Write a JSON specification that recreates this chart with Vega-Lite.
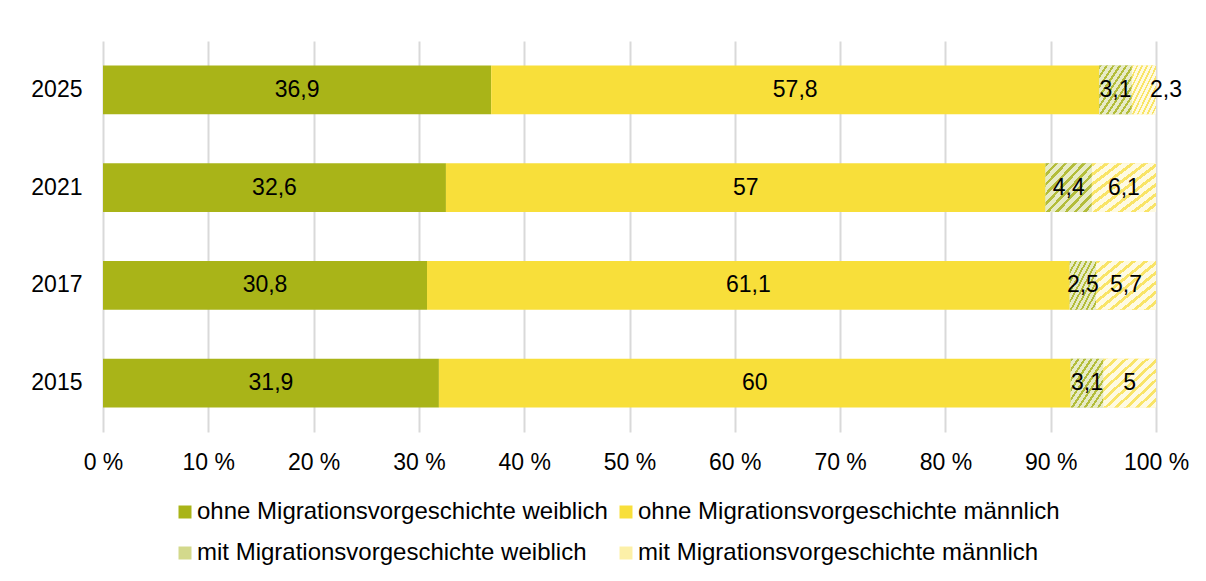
{
  "$schema": "https://vega.github.io/schema/vega-lite/v6.json",
  "width": 1053,
  "height": 391,
  "autosize": {"type": "none"},
  "padding": {"left": 103, "top": 41, "right": 50, "bottom": 149},
  "background": "white",
  "config": {
    "font": "Liberation Sans",
    "view": {"stroke": null},
    "axis": {"labelFont": "Liberation Sans", "labelColor": "#000000", "labelFontSize": 23}
  },
  "data": {
    "values": [
      {"year": "2025", "cat": "ohne Migrationsvorgeschichte weiblich", "order": 1, "v": 36.9, "label": "36,9"},
      {"year": "2025", "cat": "ohne Migrationsvorgeschichte männlich", "order": 2, "v": 57.8, "label": "57,8"},
      {"year": "2025", "cat": "mit Migrationsvorgeschichte weiblich", "order": 3, "v": 3.1, "label": "3,1"},
      {"year": "2025", "cat": "mit Migrationsvorgeschichte männlich", "order": 4, "v": 2.3, "label": "2,3"},
      {"year": "2021", "cat": "ohne Migrationsvorgeschichte weiblich", "order": 1, "v": 32.6, "label": "32,6"},
      {"year": "2021", "cat": "ohne Migrationsvorgeschichte männlich", "order": 2, "v": 57, "label": "57"},
      {"year": "2021", "cat": "mit Migrationsvorgeschichte weiblich", "order": 3, "v": 4.4, "label": "4,4"},
      {"year": "2021", "cat": "mit Migrationsvorgeschichte männlich", "order": 4, "v": 6.1, "label": "6,1"},
      {"year": "2017", "cat": "ohne Migrationsvorgeschichte weiblich", "order": 1, "v": 30.8, "label": "30,8"},
      {"year": "2017", "cat": "ohne Migrationsvorgeschichte männlich", "order": 2, "v": 61.1, "label": "61,1"},
      {"year": "2017", "cat": "mit Migrationsvorgeschichte weiblich", "order": 3, "v": 2.5, "label": "2,5"},
      {"year": "2017", "cat": "mit Migrationsvorgeschichte männlich", "order": 4, "v": 5.7, "label": "5,7"},
      {"year": "2015", "cat": "ohne Migrationsvorgeschichte weiblich", "order": 1, "v": 31.9, "label": "31,9"},
      {"year": "2015", "cat": "ohne Migrationsvorgeschichte männlich", "order": 2, "v": 60, "label": "60"},
      {"year": "2015", "cat": "mit Migrationsvorgeschichte weiblich", "order": 3, "v": 3.1, "label": "3,1"},
      {"year": "2015", "cat": "mit Migrationsvorgeschichte männlich", "order": 4, "v": 5, "label": "5"}
    ]
  },
  "transform": [
    {"stack": "v", "groupby": ["year"], "sort": [{"field": "order"}], "offset": "normalize", "as": ["x0", "x1"]},
    {"calculate": "datum.x1 - datum.x0 < 0.024 ? datum.x1 + 0.0095 : (datum.x0 + datum.x1) / 2", "as": "xm"}
  ],
  "encoding": {
    "y": {
      "field": "year",
      "type": "nominal",
      "sort": ["2025", "2021", "2017", "2015"],
      "scale": {"paddingInner": 0.5, "paddingOuter": 0.25},
      "axis": {"title": null, "domain": false, "ticks": false, "labelPadding": 21, "grid": false}
    }
  },
  "layer": [
    {
      "mark": {"type": "bar"},
      "encoding": {
        "x": {
          "field": "x0",
          "type": "quantitative",
          "scale": {"domain": [0, 1]},
          "axis": {
            "title": null,
            "values": [0, 0.1, 0.2, 0.3, 0.4, 0.5, 0.6, 0.7, 0.8, 0.9, 1],
            "labelExpr": "format(datum.value * 100, 'd') + ' %'",
            "domain": false,
            "ticks": false,
            "grid": true,
            "gridColor": "#d9d9d9",
            "gridWidth": 2,
            "labelPadding": 19,
            "labelFlush": false
          }
        },
        "x2": {"field": "x1"},
        "fill": {
          "field": "cat",
          "type": "nominal",
          "scale": {
            "domain": ["ohne Migrationsvorgeschichte weiblich", "ohne Migrationsvorgeschichte männlich", "mit Migrationsvorgeschichte weiblich", "mit Migrationsvorgeschichte männlich"],
            "range": ["#A9B418", "#F8DF3A", "#D3D98C", "#FCF0A8"]
          },
          "legend": {
            "title": null,
            "orient": "none",
            "legendX": 70,
            "legendY": 459,
            "direction": "horizontal",
            "columns": 2,
            "columnPadding": 6,
            "rowPadding": 17,
            "padding": 0,
            "symbolType": "square",
            "symbolSize": 169,
            "symbolStrokeWidth": 0,
            "labelFontSize": 24,
            "labelFont": "Liberation Sans",
            "labelColor": "#000000",
            "labelOffset": 0,
            "labelLimit": 600
          }
        }
      }
    },
    {
      "transform": [{"filter": "datum.order >= 3"}],
      "mark": {"type": "bar"},
      "encoding": {
        "x": {"field": "x0", "type": "quantitative"},
        "x2": {"field": "x1"},
        "fill": {
          "condition": {
            "test": "datum.order == 3",
            "value": {"gradient": "linear", "x1": 0, "y1": 0, "x2": 1, "y2": 1, "stops": [
              {"offset": 0, "color": "#B3BD3A"}, {"offset": 0.038, "color": "#B3BD3A"}, {"offset": 0.038, "color": "#E7EBC6"}, {"offset": 0.1, "color": "#E7EBC6"},
              {"offset": 0.1, "color": "#B3BD3A"}, {"offset": 0.138, "color": "#B3BD3A"}, {"offset": 0.138, "color": "#E7EBC6"}, {"offset": 0.2, "color": "#E7EBC6"},
              {"offset": 0.2, "color": "#B3BD3A"}, {"offset": 0.238, "color": "#B3BD3A"}, {"offset": 0.238, "color": "#E7EBC6"}, {"offset": 0.3, "color": "#E7EBC6"},
              {"offset": 0.3, "color": "#B3BD3A"}, {"offset": 0.338, "color": "#B3BD3A"}, {"offset": 0.338, "color": "#E7EBC6"}, {"offset": 0.4, "color": "#E7EBC6"},
              {"offset": 0.4, "color": "#B3BD3A"}, {"offset": 0.438, "color": "#B3BD3A"}, {"offset": 0.438, "color": "#E7EBC6"}, {"offset": 0.5, "color": "#E7EBC6"},
              {"offset": 0.5, "color": "#B3BD3A"}, {"offset": 0.538, "color": "#B3BD3A"}, {"offset": 0.538, "color": "#E7EBC6"}, {"offset": 0.6, "color": "#E7EBC6"},
              {"offset": 0.6, "color": "#B3BD3A"}, {"offset": 0.638, "color": "#B3BD3A"}, {"offset": 0.638, "color": "#E7EBC6"}, {"offset": 0.7, "color": "#E7EBC6"},
              {"offset": 0.7, "color": "#B3BD3A"}, {"offset": 0.738, "color": "#B3BD3A"}, {"offset": 0.738, "color": "#E7EBC6"}, {"offset": 0.8, "color": "#E7EBC6"},
              {"offset": 0.8, "color": "#B3BD3A"}, {"offset": 0.838, "color": "#B3BD3A"}, {"offset": 0.838, "color": "#E7EBC6"}, {"offset": 0.9, "color": "#E7EBC6"},
              {"offset": 0.9, "color": "#B3BD3A"}, {"offset": 0.938, "color": "#B3BD3A"}, {"offset": 0.938, "color": "#E7EBC6"}, {"offset": 1, "color": "#E7EBC6"}
            ]}
          },
          "value": {"gradient": "linear", "x1": 0, "y1": 0, "x2": 1, "y2": 1, "stops": [
            {"offset": 0, "color": "#F9E466"}, {"offset": 0.038, "color": "#F9E466"}, {"offset": 0.038, "color": "#FEFAE2"}, {"offset": 0.1, "color": "#FEFAE2"},
            {"offset": 0.1, "color": "#F9E466"}, {"offset": 0.138, "color": "#F9E466"}, {"offset": 0.138, "color": "#FEFAE2"}, {"offset": 0.2, "color": "#FEFAE2"},
            {"offset": 0.2, "color": "#F9E466"}, {"offset": 0.238, "color": "#F9E466"}, {"offset": 0.238, "color": "#FEFAE2"}, {"offset": 0.3, "color": "#FEFAE2"},
            {"offset": 0.3, "color": "#F9E466"}, {"offset": 0.338, "color": "#F9E466"}, {"offset": 0.338, "color": "#FEFAE2"}, {"offset": 0.4, "color": "#FEFAE2"},
            {"offset": 0.4, "color": "#F9E466"}, {"offset": 0.438, "color": "#F9E466"}, {"offset": 0.438, "color": "#FEFAE2"}, {"offset": 0.5, "color": "#FEFAE2"},
            {"offset": 0.5, "color": "#F9E466"}, {"offset": 0.538, "color": "#F9E466"}, {"offset": 0.538, "color": "#FEFAE2"}, {"offset": 0.6, "color": "#FEFAE2"},
            {"offset": 0.6, "color": "#F9E466"}, {"offset": 0.638, "color": "#F9E466"}, {"offset": 0.638, "color": "#FEFAE2"}, {"offset": 0.7, "color": "#FEFAE2"},
            {"offset": 0.7, "color": "#F9E466"}, {"offset": 0.738, "color": "#F9E466"}, {"offset": 0.738, "color": "#FEFAE2"}, {"offset": 0.8, "color": "#FEFAE2"},
            {"offset": 0.8, "color": "#F9E466"}, {"offset": 0.838, "color": "#F9E466"}, {"offset": 0.838, "color": "#FEFAE2"}, {"offset": 0.9, "color": "#FEFAE2"},
            {"offset": 0.9, "color": "#F9E466"}, {"offset": 0.938, "color": "#F9E466"}, {"offset": 0.938, "color": "#FEFAE2"}, {"offset": 1, "color": "#FEFAE2"}
          ]}
        }
      }
    },
    {
      "mark": {"type": "text", "fontSize": 23, "font": "Liberation Sans", "color": "#000000", "align": "center", "baseline": "middle"},
      "encoding": {
        "x": {"field": "xm", "type": "quantitative"},
        "text": {"field": "label", "type": "nominal"}
      }
    }
  ]
}
